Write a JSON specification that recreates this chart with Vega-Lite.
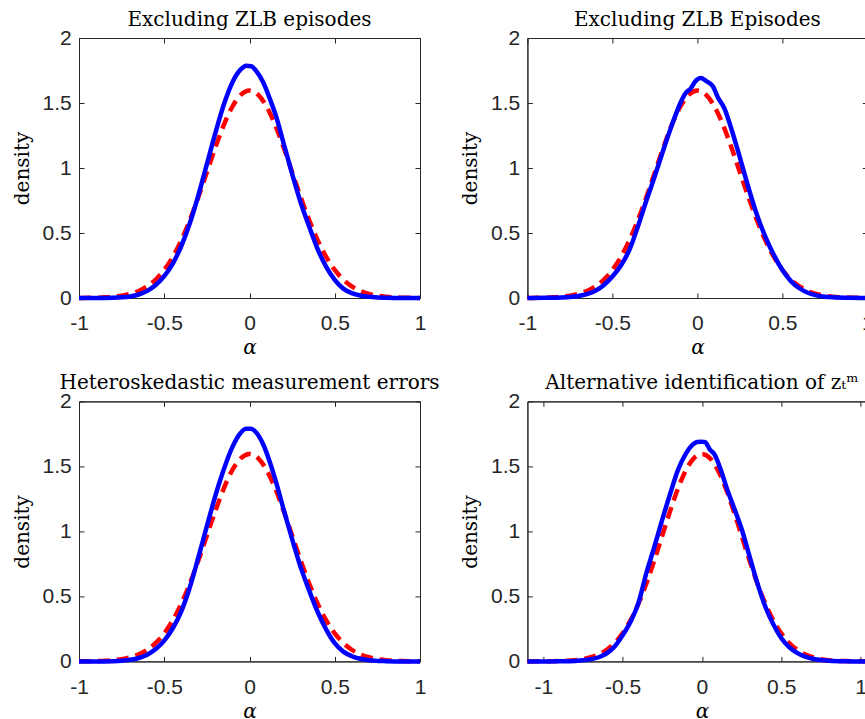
{
  "$schema": "https://vega.github.io/schema/vega-lite/v6.json",
  "background": "white",
  "padding": {"left": 11, "top": 9, "right": 0, "bottom": 0},
  "config": {
    "view": {"stroke": "#262626", "strokeWidth": 1},
    "axis": {
      "labelFont": "Liberation Sans",
      "labelFontSize": 21,
      "labelColor": "#262626",
      "domainColor": "#262626",
      "tickColor": "#262626",
      "tickSize": -5,
      "grid": false,
      "labelFlush": false,
      "titleFont": "DejaVu Serif",
      "titleFontWeight": "normal",
      "titleColor": "#000000"
    },
    "axisX": {"labelPadding": 19.8, "titlePadding": 4},
    "axisY": {"labelPadding": 12.7, "titlePadding": 10},
    "title": {"font": "DejaVu Serif", "fontSize": 20, "fontWeight": "normal", "color": "#000000", "baseline": "alphabetic", "offset": -3}
  },
  "datasets": {
    "prior": [
      {"x": -1.1, "y": 0.0001}, {"x": -1.05, "y": 0.0002}, {"x": -1.0, "y": 0.0005}, {"x": -0.95, "y": 0.0012},
      {"x": -0.9, "y": 0.0024}, {"x": -0.85, "y": 0.0049}, {"x": -0.8, "y": 0.0095}, {"x": -0.75, "y": 0.0177},
      {"x": -0.7, "y": 0.0317}, {"x": -0.65, "y": 0.0543}, {"x": -0.6, "y": 0.0896}, {"x": -0.55, "y": 0.1419},
      {"x": -0.5, "y": 0.216}, {"x": -0.45, "y": 0.3158}, {"x": -0.4, "y": 0.4437}, {"x": -0.35, "y": 0.5989},
      {"x": -0.3, "y": 0.7768}, {"x": -0.25, "y": 0.9679}, {"x": -0.2, "y": 1.1588}, {"x": -0.15, "y": 1.333},
      {"x": -0.1, "y": 1.4731}, {"x": -0.05, "y": 1.5642}, {"x": 0.0, "y": 1.5958}, {"x": 0.05, "y": 1.5642},
      {"x": 0.1, "y": 1.4731}, {"x": 0.15, "y": 1.333}, {"x": 0.2, "y": 1.1588}, {"x": 0.25, "y": 0.9679},
      {"x": 0.3, "y": 0.7768}, {"x": 0.35, "y": 0.5989}, {"x": 0.4, "y": 0.4437}, {"x": 0.45, "y": 0.3158},
      {"x": 0.5, "y": 0.216}, {"x": 0.55, "y": 0.1419}, {"x": 0.6, "y": 0.0896}, {"x": 0.65, "y": 0.0543},
      {"x": 0.7, "y": 0.0317}, {"x": 0.75, "y": 0.0177}, {"x": 0.8, "y": 0.0095}, {"x": 0.85, "y": 0.0049},
      {"x": 0.9, "y": 0.0024}, {"x": 0.95, "y": 0.0012}, {"x": 1.0, "y": 0.0005}, {"x": 1.05, "y": 0.0002},
      {"x": 1.1, "y": 0.0001}
    ],
    "posterior": [
      {"panel": "p1", "x": -1.0, "y": 0.0}, {"panel": "p1", "x": -0.9, "y": 0.0}, {"panel": "p1", "x": -0.8, "y": 0.002},
      {"panel": "p1", "x": -0.75, "y": 0.005}, {"panel": "p1", "x": -0.7, "y": 0.012}, {"panel": "p1", "x": -0.65, "y": 0.027},
      {"panel": "p1", "x": -0.6, "y": 0.055}, {"panel": "p1", "x": -0.55, "y": 0.1}, {"panel": "p1", "x": -0.5, "y": 0.168},
      {"panel": "p1", "x": -0.45, "y": 0.265}, {"panel": "p1", "x": -0.4, "y": 0.4}, {"panel": "p1", "x": -0.35, "y": 0.575},
      {"panel": "p1", "x": -0.3, "y": 0.79}, {"panel": "p1", "x": -0.25, "y": 1.03}, {"panel": "p1", "x": -0.2, "y": 1.27},
      {"panel": "p1", "x": -0.15, "y": 1.49}, {"panel": "p1", "x": -0.1, "y": 1.66}, {"panel": "p1", "x": -0.05, "y": 1.76},
      {"panel": "p1", "x": -0.02, "y": 1.787}, {"panel": "p1", "x": 0.01, "y": 1.783}, {"panel": "p1", "x": 0.04, "y": 1.745},
      {"panel": "p1", "x": 0.08, "y": 1.66}, {"panel": "p1", "x": 0.12, "y": 1.53}, {"panel": "p1", "x": 0.16, "y": 1.38},
      {"panel": "p1", "x": 0.2, "y": 1.19}, {"panel": "p1", "x": 0.25, "y": 0.955}, {"panel": "p1", "x": 0.3, "y": 0.735},
      {"panel": "p1", "x": 0.35, "y": 0.55}, {"panel": "p1", "x": 0.4, "y": 0.375}, {"panel": "p1", "x": 0.45, "y": 0.24},
      {"panel": "p1", "x": 0.5, "y": 0.14}, {"panel": "p1", "x": 0.55, "y": 0.072}, {"panel": "p1", "x": 0.6, "y": 0.038},
      {"panel": "p1", "x": 0.65, "y": 0.019}, {"panel": "p1", "x": 0.7, "y": 0.009}, {"panel": "p1", "x": 0.75, "y": 0.004},
      {"panel": "p1", "x": 0.8, "y": 0.002}, {"panel": "p1", "x": 0.9, "y": 0.0}, {"panel": "p1", "x": 1.0, "y": 0.0},

      {"panel": "p2", "x": -1.0, "y": 0.0}, {"panel": "p2", "x": -0.9, "y": 0.001}, {"panel": "p2", "x": -0.8, "y": 0.004},
      {"panel": "p2", "x": -0.75, "y": 0.008}, {"panel": "p2", "x": -0.7, "y": 0.016}, {"panel": "p2", "x": -0.65, "y": 0.03},
      {"panel": "p2", "x": -0.6, "y": 0.055}, {"panel": "p2", "x": -0.55, "y": 0.1}, {"panel": "p2", "x": -0.5, "y": 0.165},
      {"panel": "p2", "x": -0.45, "y": 0.25}, {"panel": "p2", "x": -0.4, "y": 0.37}, {"panel": "p2", "x": -0.35, "y": 0.55},
      {"panel": "p2", "x": -0.3, "y": 0.75}, {"panel": "p2", "x": -0.25, "y": 0.94}, {"panel": "p2", "x": -0.2, "y": 1.14},
      {"panel": "p2", "x": -0.15, "y": 1.33}, {"panel": "p2", "x": -0.1, "y": 1.5}, {"panel": "p2", "x": -0.07, "y": 1.575},
      {"panel": "p2", "x": -0.04, "y": 1.61}, {"panel": "p2", "x": -0.01, "y": 1.67}, {"panel": "p2", "x": 0.02, "y": 1.693},
      {"panel": "p2", "x": 0.05, "y": 1.67}, {"panel": "p2", "x": 0.09, "y": 1.63}, {"panel": "p2", "x": 0.12, "y": 1.545},
      {"panel": "p2", "x": 0.16, "y": 1.455}, {"panel": "p2", "x": 0.2, "y": 1.3}, {"panel": "p2", "x": 0.25, "y": 1.08},
      {"panel": "p2", "x": 0.3, "y": 0.85}, {"panel": "p2", "x": 0.35, "y": 0.64}, {"panel": "p2", "x": 0.4, "y": 0.47},
      {"panel": "p2", "x": 0.45, "y": 0.33}, {"panel": "p2", "x": 0.5, "y": 0.215}, {"panel": "p2", "x": 0.55, "y": 0.13},
      {"panel": "p2", "x": 0.6, "y": 0.075}, {"panel": "p2", "x": 0.65, "y": 0.04}, {"panel": "p2", "x": 0.7, "y": 0.02},
      {"panel": "p2", "x": 0.75, "y": 0.01}, {"panel": "p2", "x": 0.8, "y": 0.005}, {"panel": "p2", "x": 0.9, "y": 0.001},
      {"panel": "p2", "x": 1.0, "y": 0.0},

      {"panel": "p3", "x": -1.0, "y": 0.0}, {"panel": "p3", "x": -0.9, "y": 0.0}, {"panel": "p3", "x": -0.8, "y": 0.002},
      {"panel": "p3", "x": -0.75, "y": 0.005}, {"panel": "p3", "x": -0.7, "y": 0.012}, {"panel": "p3", "x": -0.65, "y": 0.026},
      {"panel": "p3", "x": -0.6, "y": 0.052}, {"panel": "p3", "x": -0.55, "y": 0.095}, {"panel": "p3", "x": -0.5, "y": 0.16},
      {"panel": "p3", "x": -0.45, "y": 0.255}, {"panel": "p3", "x": -0.4, "y": 0.385}, {"panel": "p3", "x": -0.35, "y": 0.57},
      {"panel": "p3", "x": -0.3, "y": 0.8}, {"panel": "p3", "x": -0.25, "y": 1.04}, {"panel": "p3", "x": -0.2, "y": 1.275},
      {"panel": "p3", "x": -0.15, "y": 1.48}, {"panel": "p3", "x": -0.1, "y": 1.65}, {"panel": "p3", "x": -0.06, "y": 1.745},
      {"panel": "p3", "x": -0.02, "y": 1.79}, {"panel": "p3", "x": 0.01, "y": 1.79}, {"panel": "p3", "x": 0.04, "y": 1.76},
      {"panel": "p3", "x": 0.08, "y": 1.67}, {"panel": "p3", "x": 0.12, "y": 1.53}, {"panel": "p3", "x": 0.16, "y": 1.36},
      {"panel": "p3", "x": 0.2, "y": 1.17}, {"panel": "p3", "x": 0.25, "y": 0.94}, {"panel": "p3", "x": 0.3, "y": 0.725},
      {"panel": "p3", "x": 0.35, "y": 0.545}, {"panel": "p3", "x": 0.4, "y": 0.38}, {"panel": "p3", "x": 0.45, "y": 0.245},
      {"panel": "p3", "x": 0.5, "y": 0.14}, {"panel": "p3", "x": 0.55, "y": 0.075}, {"panel": "p3", "x": 0.6, "y": 0.04},
      {"panel": "p3", "x": 0.65, "y": 0.02}, {"panel": "p3", "x": 0.7, "y": 0.009}, {"panel": "p3", "x": 0.75, "y": 0.004},
      {"panel": "p3", "x": 0.8, "y": 0.002}, {"panel": "p3", "x": 0.9, "y": 0.0}, {"panel": "p3", "x": 1.0, "y": 0.0},

      {"panel": "p4", "x": -1.1, "y": 0.0}, {"panel": "p4", "x": -1.0, "y": 0.0}, {"panel": "p4", "x": -0.9, "y": 0.001},
      {"panel": "p4", "x": -0.8, "y": 0.004}, {"panel": "p4", "x": -0.75, "y": 0.008}, {"panel": "p4", "x": -0.7, "y": 0.016},
      {"panel": "p4", "x": -0.65, "y": 0.032}, {"panel": "p4", "x": -0.6, "y": 0.062}, {"panel": "p4", "x": -0.55, "y": 0.115},
      {"panel": "p4", "x": -0.5, "y": 0.2}, {"panel": "p4", "x": -0.45, "y": 0.305}, {"panel": "p4", "x": -0.4, "y": 0.45},
      {"panel": "p4", "x": -0.35, "y": 0.68}, {"panel": "p4", "x": -0.3, "y": 0.88}, {"panel": "p4", "x": -0.25, "y": 1.09},
      {"panel": "p4", "x": -0.2, "y": 1.29}, {"panel": "p4", "x": -0.15, "y": 1.475}, {"panel": "p4", "x": -0.1, "y": 1.6},
      {"panel": "p4", "x": -0.06, "y": 1.665}, {"panel": "p4", "x": -0.03, "y": 1.688}, {"panel": "p4", "x": 0.0, "y": 1.69},
      {"panel": "p4", "x": 0.02, "y": 1.686}, {"panel": "p4", "x": 0.05, "y": 1.63}, {"panel": "p4", "x": 0.08, "y": 1.59},
      {"panel": "p4", "x": 0.12, "y": 1.47}, {"panel": "p4", "x": 0.16, "y": 1.32}, {"panel": "p4", "x": 0.2, "y": 1.19},
      {"panel": "p4", "x": 0.25, "y": 1.02}, {"panel": "p4", "x": 0.3, "y": 0.81}, {"panel": "p4", "x": 0.35, "y": 0.6},
      {"panel": "p4", "x": 0.4, "y": 0.42}, {"panel": "p4", "x": 0.45, "y": 0.285}, {"panel": "p4", "x": 0.5, "y": 0.18},
      {"panel": "p4", "x": 0.55, "y": 0.11}, {"panel": "p4", "x": 0.6, "y": 0.065}, {"panel": "p4", "x": 0.65, "y": 0.036},
      {"panel": "p4", "x": 0.7, "y": 0.02}, {"panel": "p4", "x": 0.75, "y": 0.01}, {"panel": "p4", "x": 0.8, "y": 0.005},
      {"panel": "p4", "x": 0.9, "y": 0.001}, {"panel": "p4", "x": 1.0, "y": 0.0}, {"panel": "p4", "x": 1.1, "y": 0.0}
    ]
  },
  "columns": 2,
  "spacing": {"row": 103.4, "column": 107.4},
  "bounds": "flush",
  "align": "each",
  "concat": [
    {
      "width": 341, "height": 260,
      "title": "Excluding ZLB episodes",
      "layer": [
        {
          "data": {"name": "prior"},
          "transform": [{"filter": "abs(datum.x) <= 1"}],
          "mark": {"type": "line", "color": "#FF0000", "strokeWidth": 4.5, "strokeDash": [12, 7], "interpolate": "monotone"},
          "encoding": {
            "x": {"field": "x", "type": "quantitative", "scale": {"domain": [-1, 1], "nice": false, "zero": false},
                  "axis": {"values": [-1, -0.5, 0, 0.5, 1], "labelExpr": "'' + datum.value", "title": "α", "titleFontStyle": "italic", "titleFontSize": 20}},
            "y": {"field": "y", "type": "quantitative", "scale": {"domain": [0, 2], "nice": false},
                  "axis": {"values": [0, 0.5, 1, 1.5, 2], "labelExpr": "'' + datum.value", "title": "density", "titleFontSize": 20}}
          }
        },
        {
          "data": {"name": "posterior"},
          "transform": [{"filter": "datum.panel === 'p1'"}],
          "mark": {"type": "line", "color": "#0000FF", "strokeWidth": 4.5, "interpolate": "monotone"},
          "encoding": {
            "x": {"field": "x", "type": "quantitative", "axis": {"orient": "top", "labels": false, "title": null, "values": [-1, -0.5, 0, 0.5, 1]}},
            "y": {"field": "y", "type": "quantitative", "axis": {"orient": "right", "labels": false, "title": null, "values": [0, 0.5, 1, 1.5, 2]}}
          }
        }
      ],
      "resolve": {"axis": {"x": "independent", "y": "independent"}}
    },
    {
      "width": 340, "height": 260,
      "title": "Excluding ZLB Episodes",
      "layer": [
        {
          "data": {"name": "prior"},
          "transform": [{"filter": "abs(datum.x) <= 1"}],
          "mark": {"type": "line", "color": "#FF0000", "strokeWidth": 4.5, "strokeDash": [12, 7], "interpolate": "monotone"},
          "encoding": {
            "x": {"field": "x", "type": "quantitative", "scale": {"domain": [-1, 1], "nice": false, "zero": false},
                  "axis": {"values": [-1, -0.5, 0, 0.5, 1], "labelExpr": "'' + datum.value", "title": "α", "titleFontStyle": "italic", "titleFontSize": 20}},
            "y": {"field": "y", "type": "quantitative", "scale": {"domain": [0, 2], "nice": false},
                  "axis": {"values": [0, 0.5, 1, 1.5, 2], "labelExpr": "'' + datum.value", "title": "density", "titleFontSize": 20}}
          }
        },
        {
          "data": {"name": "posterior"},
          "transform": [{"filter": "datum.panel === 'p2'"}],
          "mark": {"type": "line", "color": "#0000FF", "strokeWidth": 4.5, "interpolate": "monotone"},
          "encoding": {
            "x": {"field": "x", "type": "quantitative", "axis": {"orient": "top", "labels": false, "title": null, "values": [-1, -0.5, 0, 0.5, 1]}},
            "y": {"field": "y", "type": "quantitative", "axis": {"orient": "right", "labels": false, "title": null, "values": [0, 0.5, 1, 1.5, 2]}}
          }
        }
      ],
      "resolve": {"axis": {"x": "independent", "y": "independent"}}
    },
    {
      "width": 341, "height": 260,
      "title": "Heteroskedastic measurement errors",
      "layer": [
        {
          "data": {"name": "prior"},
          "transform": [{"filter": "abs(datum.x) <= 1"}],
          "mark": {"type": "line", "color": "#FF0000", "strokeWidth": 4.5, "strokeDash": [12, 7], "interpolate": "monotone"},
          "encoding": {
            "x": {"field": "x", "type": "quantitative", "scale": {"domain": [-1, 1], "nice": false, "zero": false},
                  "axis": {"values": [-1, -0.5, 0, 0.5, 1], "labelExpr": "'' + datum.value", "title": "α", "titleFontStyle": "italic", "titleFontSize": 20}},
            "y": {"field": "y", "type": "quantitative", "scale": {"domain": [0, 2], "nice": false},
                  "axis": {"values": [0, 0.5, 1, 1.5, 2], "labelExpr": "'' + datum.value", "title": "density", "titleFontSize": 20}}
          }
        },
        {
          "data": {"name": "posterior"},
          "transform": [{"filter": "datum.panel === 'p3'"}],
          "mark": {"type": "line", "color": "#0000FF", "strokeWidth": 4.5, "interpolate": "monotone"},
          "encoding": {
            "x": {"field": "x", "type": "quantitative", "axis": {"orient": "top", "labels": false, "title": null, "values": [-1, -0.5, 0, 0.5, 1]}},
            "y": {"field": "y", "type": "quantitative", "axis": {"orient": "right", "labels": false, "title": null, "values": [0, 0.5, 1, 1.5, 2]}}
          }
        }
      ],
      "resolve": {"axis": {"x": "independent", "y": "independent"}}
    },
    {
      "width": 349, "height": 260,
      "title": "Alternative identification of zₜᵐ",
      "layer": [
        {
          "data": {"name": "prior"},
          "mark": {"type": "line", "color": "#FF0000", "strokeWidth": 4.5, "strokeDash": [12, 7], "interpolate": "monotone"},
          "encoding": {
            "x": {"field": "x", "type": "quantitative", "scale": {"domain": [-1.1, 1.1], "nice": false, "zero": false},
                  "axis": {"values": [-1, -0.5, 0, 0.5, 1], "labelExpr": "'' + datum.value", "title": "α", "titleFontStyle": "italic", "titleFontSize": 20}},
            "y": {"field": "y", "type": "quantitative", "scale": {"domain": [0, 2], "nice": false},
                  "axis": {"values": [0, 0.5, 1, 1.5, 2], "labelExpr": "'' + datum.value", "title": "density", "titleFontSize": 20}}
          }
        },
        {
          "data": {"name": "posterior"},
          "transform": [{"filter": "datum.panel === 'p4'"}],
          "mark": {"type": "line", "color": "#0000FF", "strokeWidth": 4.5, "interpolate": "monotone"},
          "encoding": {
            "x": {"field": "x", "type": "quantitative", "axis": {"orient": "top", "labels": false, "title": null, "values": [-1, -0.5, 0, 0.5, 1]}},
            "y": {"field": "y", "type": "quantitative", "axis": {"orient": "right", "labels": false, "title": null, "values": [0, 0.5, 1, 1.5, 2]}}
          }
        }
      ],
      "resolve": {"axis": {"x": "independent", "y": "independent"}}
    }
  ]
}
